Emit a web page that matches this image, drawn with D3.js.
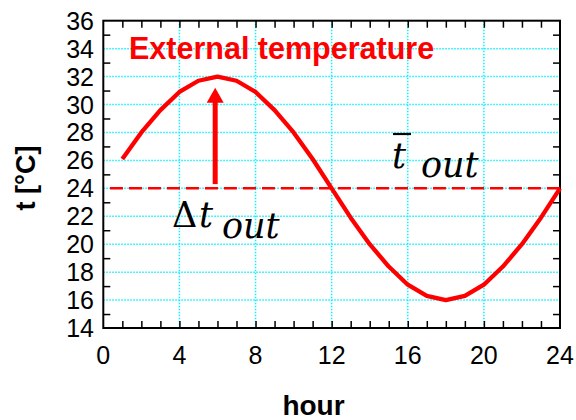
<!DOCTYPE html>
<html>
<head>
<meta charset="utf-8">
<script src="https://d3js.org/d3.v7.min.js"></script>
<style>
  body { margin: 0; background: #fff; }
</style>
</head>
<body>
<script>
// data
var hours = [1, 2, 3, 4, 5, 6, 7, 8, 9, 10, 11, 12, 13, 14, 15, 16, 17, 18, 19, 20, 21, 22, 23, 24];
var temps = [26.1, 28.0, 29.6, 30.9, 31.7, 32.0, 31.7, 30.9, 29.6, 28.0, 26.1, 24.0,
             21.9, 20.0, 18.4, 17.1, 16.3, 16.0, 16.3, 17.1, 18.4, 20.0, 21.9, 24.0];
var meanTemp = 24;
var meanFrom = 0.35, meanTo = 24;
var arrowHour = 5.88, arrowFrom = 24.3, arrowTo = 31.2;
var xTicks = [0, 4, 8, 12, 16, 20, 24];
var yTicks = [14, 16, 18, 20, 22, 24, 26, 28, 30, 32, 34, 36];
var yMinor = [15, 17, 19, 21, 23, 25, 27, 29, 31, 33, 35];
var xMinor = d3.range(1, 24);

var w = 576, h = 420;
var pLeft = 103.3, pRight = 560, pTop = 20.7, pBottom = 328;
var sans = "'Liberation Sans', Arial, sans-serif";
var serif = "'DejaVu Serif', 'Liberation Serif', serif";

var svg = d3.select("body").append("svg").attr("width", w).attr("height", h)
    .style("font-family", sans);

var x = d3.scaleLinear().domain([0, 24]).range([pLeft, pRight]);
var y = d3.scaleLinear().domain([14, 36]).range([pBottom, pTop]);

// grid
svg.append("g").selectAll("line").data(xTicks.slice(1, -1)).enter().append("line")
    .attr("x1", d => x(d)).attr("x2", d => x(d))
    .attr("y1", pTop).attr("y2", pBottom)
    .attr("stroke", "#11f0ff").attr("stroke-width", 1.5).attr("stroke-dasharray", "1.5,1.5");
svg.append("g").selectAll("line").data(yTicks.slice(1, -1)).enter().append("line")
    .attr("x1", pLeft).attr("x2", pRight)
    .attr("y1", d => y(d)).attr("y2", d => y(d))
    .attr("stroke", "#11f0ff").attr("stroke-width", 1.5).attr("stroke-dasharray", "1.5,1.5");

// axes with minor ticks on all four sides
var tickLen = 7;
svg.append("g").attr("transform", "translate(0," + pBottom + ")")
    .call(d3.axisTop(x).tickValues(xMinor).tickSize(tickLen).tickFormat(""));
svg.append("g").attr("transform", "translate(0," + pTop + ")")
    .call(d3.axisBottom(x).tickValues(xMinor).tickSize(tickLen).tickFormat(""));
svg.append("g").attr("transform", "translate(" + pLeft + ",0)")
    .call(d3.axisRight(y).tickValues(yMinor).tickSize(tickLen).tickFormat(""));
svg.append("g").attr("transform", "translate(" + pRight + ",0)")
    .call(d3.axisLeft(y).tickValues(yMinor).tickSize(tickLen).tickFormat(""));
svg.selectAll(".domain").remove();
svg.selectAll(".tick line").attr("stroke", "#000").attr("stroke-width", 1.5);

svg.append("rect").attr("x", pLeft).attr("y", pTop)
    .attr("width", pRight - pLeft).attr("height", pBottom - pTop)
    .attr("fill", "none").attr("stroke", "#000").attr("stroke-width", 2);

// tick labels
svg.append("g").selectAll("text").data(yTicks).enter().append("text")
    .attr("x", 94).attr("y", d => y(d) + 9)
    .attr("text-anchor", "end").attr("font-size", 25).attr("fill", "#000")
    .text(d => d);
svg.append("g").selectAll("text").data(xTicks).enter().append("text")
    .attr("x", d => x(d)).attr("y", 364)
    .attr("text-anchor", "middle").attr("font-size", 25).attr("fill", "#000")
    .text(d => d);

// axis titles
svg.append("text").attr("x", 313.5).attr("y", 415)
    .attr("text-anchor", "middle").attr("font-size", 28).attr("font-weight", "bold")
    .text("hour");
svg.append("text").attr("transform", "translate(35,178) rotate(-90)")
    .attr("text-anchor", "middle").attr("font-size", 27).attr("font-weight", "bold")
    .text("t [°C]");

// mean line
svg.append("line")
    .attr("x1", x(meanFrom)).attr("x2", x(meanTo))
    .attr("y1", y(meanTemp)).attr("y2", y(meanTemp))
    .attr("stroke", "#ff0000").attr("stroke-width", 2.5).attr("stroke-dasharray", "13,6");

// temperature curve
var line = d3.line().x((d, i) => x(hours[i])).y(d => y(d));
svg.append("path").datum(temps)
    .attr("d", line)
    .attr("fill", "none").attr("stroke", "#ff0000").attr("stroke-width", 4.3)
    .attr("stroke-linejoin", "round");

// arrow
var ax = x(arrowHour), ay1 = y(arrowFrom), ay2 = y(arrowTo);
svg.append("line").attr("x1", ax).attr("x2", ax).attr("y1", ay1).attr("y2", ay2 + 14)
    .attr("stroke", "#ff0000").attr("stroke-width", 5);
svg.append("path")
    .attr("d", "M" + ax + "," + ay2 + "L" + (ax + 8.5) + "," + (ay2 + 15) + "L" + (ax - 8.5) + "," + (ay2 + 15) + "Z")
    .attr("fill", "#ff0000");

// title
svg.append("text").attr("x", 129).attr("y", 59)
    .attr("font-size", 30.5).attr("font-weight", "bold").attr("fill", "#ff0000")
    .text("External temperature");

// math labels
var dl = svg.append("text").attr("x", 172).attr("y", 227)
    .style("font-family", serif).attr("font-size", 35).attr("fill", "#000");
dl.append("tspan").text("Δ");
dl.append("tspan").attr("font-style", "italic").attr("x", 199).text("t");
dl.append("tspan").attr("font-style", "italic").attr("x", 222).attr("dy", 10.5).text("out");

var ml = svg.append("text").attr("x", 392).attr("y", 168)
    .style("font-family", serif).attr("font-size", 35).attr("fill", "#000");
ml.append("tspan").attr("font-style", "italic").text("t");
ml.append("tspan").attr("font-style", "italic").attr("x", 421).attr("dy", 9).text("out");
svg.append("line").attr("x1", 393).attr("x2", 411).attr("y1", 134).attr("y2", 134)
    .attr("stroke", "#000").attr("stroke-width", 2.2);
</script>
</body>
</html>
